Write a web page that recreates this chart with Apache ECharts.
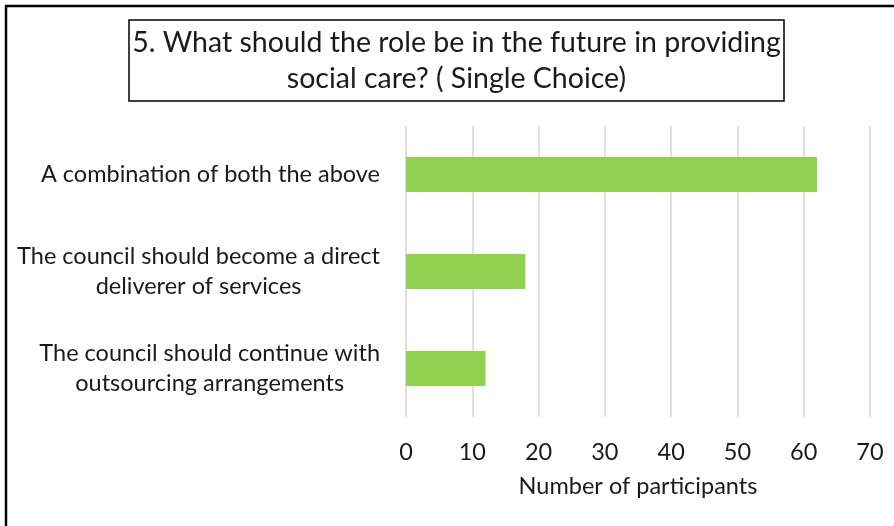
<!DOCTYPE html>
<html>
<head>
<meta charset="utf-8">
<style>
  html, body { margin: 0; padding: 0; background: #ffffff; }
  #chart { width: 894px; height: 526px; }
</style>
<script src="https://cdn.jsdelivr.net/npm/echarts@6/dist/echarts.min.js"></script>
</head>
<body>
<div id="chart"></div>
<script>
// Survey answers, listed bottom to top as the category axis draws them
const categories = [
  'The council should continue with\noutsourcing arrangements',
  'The council should become a direct\ndeliverer of services',
  'A combination of both the above'
];
const participants = [12, 18, 62];
const tickValues = [0, 10, 20, 30, 40, 50, 60, 70];
const titleLines = [
  '5. What should the role be in the future in providing',
  'social care? ( Single Choice)'
];
const axisTitle = 'Number of participants';

const FONT = 'Lato, "Open Sans", sans-serif';
const LABEL_SIZE = 23.5;

const chart = echarts.init(document.getElementById('chart'), null, { renderer: 'canvas' });

chart.setOption({
  backgroundColor: '#ffffff',
  animation: false,
  grid: { left: 406, right: 24, top: 126, bottom: 109, containLabel: false },
  xAxis: {
    type: 'value',
    min: tickValues[0],
    max: tickValues[tickValues.length - 1],
    interval: tickValues[1] - tickValues[0],
    axisLine: { show: false },
    axisTick: { show: false },
    splitLine: { show: true, lineStyle: { color: '#d4d4d4', width: 1.5 } },
    axisLabel: { color: '#1a1a1a', fontFamily: FONT, fontSize: LABEL_SIZE, margin: 23 },
    name: axisTitle,
    nameLocation: 'middle',
    nameGap: 57,
    nameTextStyle: { color: '#1a1a1a', fontFamily: FONT, fontSize: LABEL_SIZE }
  },
  yAxis: {
    type: 'category',
    data: categories,
    axisLine: { show: false },
    axisTick: { show: false },
    splitLine: { show: false },
    axisLabel: {
      margin: 26,
      color: '#1a1a1a',
      fontFamily: FONT,
      fontSize: LABEL_SIZE,
      lineHeight: 30,
      // each line is centred inside the right-aligned label block
      formatter: function (v) {
        return v.split('\n').map(function (s) { return '{c|' + s + '}'; }).join('\n');
      },
      rich: {
        c: { align: 'center', color: '#1a1a1a', fontFamily: FONT, fontSize: LABEL_SIZE, lineHeight: 30 }
      }
    }
  },
  series: [{
    type: 'bar',
    data: participants,
    barWidth: '36%',
    itemStyle: { color: '#92d050' },
    silent: true
  }],
  graphic: [
    {
      type: 'polyline',
      shape: { points: [[6, 526], [6, 6], [894, 6]] },
      style: { stroke: '#000000', lineWidth: 2.5, fill: null },
      silent: true
    },
    {
      type: 'rect',
      shape: { x: 129, y: 20, width: 655, height: 81 },
      style: { stroke: '#000000', lineWidth: 1.5, fill: '#ffffff' },
      silent: true
    },
    {
      type: 'text',
      x: 456.5,
      y: 61,
      style: {
        text: titleLines.join('\n'),
        textAlign: 'center',
        textVerticalAlign: 'middle',
        font: '28.5px ' + FONT,
        lineHeight: 36,
        fill: '#1a1a1a'
      },
      silent: true
    }
  ]
});
</script>
</body>
</html>
